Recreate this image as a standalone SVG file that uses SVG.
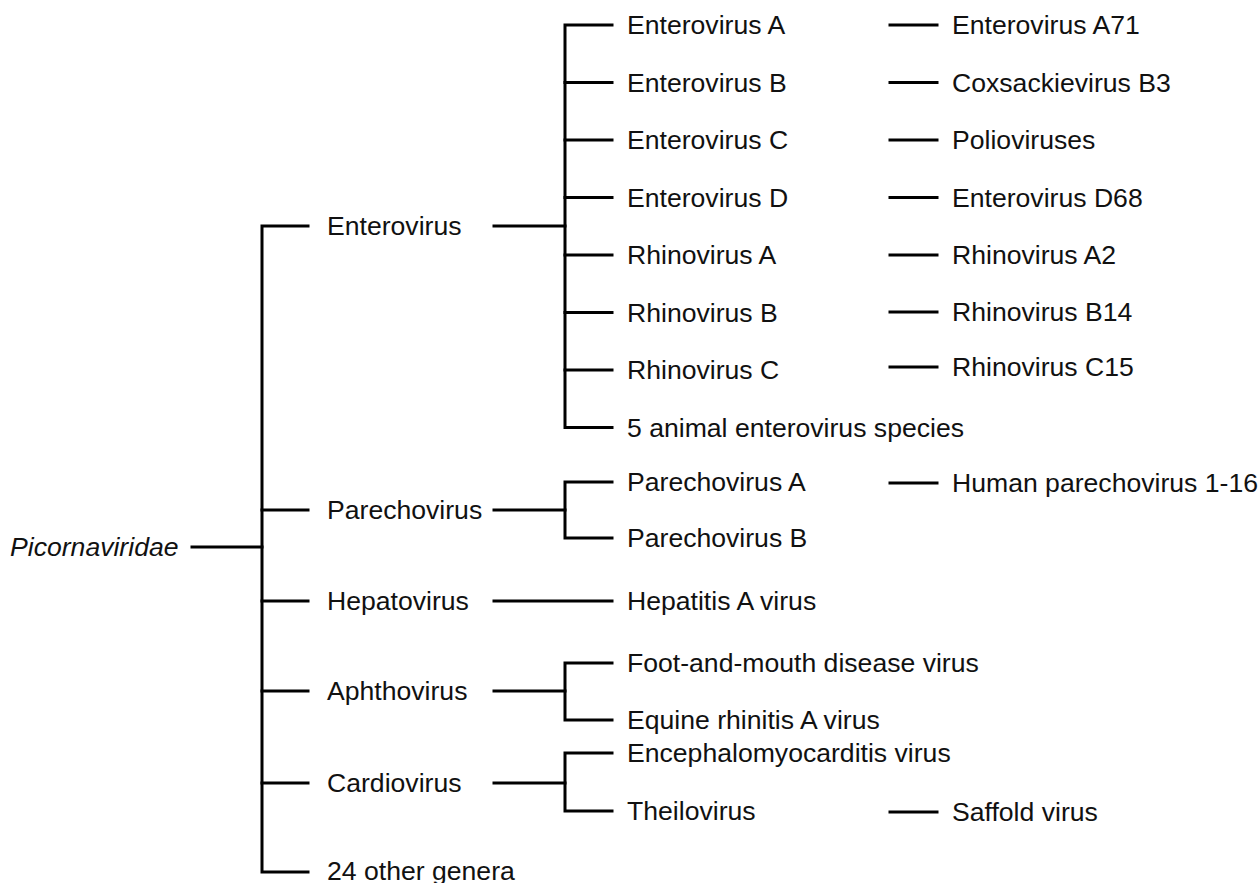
<svg xmlns="http://www.w3.org/2000/svg" width="1259" height="883" viewBox="0 0 1259 883">
<style>
text{font-family:"Liberation Sans",Arial,sans-serif;font-size:26.6px;fill:#111}
.it{font-style:italic}
.c line,.c path{stroke:#000;stroke-width:3;fill:none;stroke-linecap:square}
</style>
<rect width="1259" height="883" fill="#fff"/>
<g class="c" id="connectors">
<line x1="192" y1="547" x2="262" y2="547"/>
<path d="M308 226H262V872H308"/>
<line x1="262" y1="510" x2="308" y2="510"/>
<line x1="262" y1="601" x2="308" y2="601"/>
<line x1="262" y1="691" x2="308" y2="691"/>
<line x1="262" y1="783" x2="308" y2="783"/>
<line x1="494" y1="226" x2="565" y2="226"/>
<path d="M612 25H565V427.5H612"/>
<line x1="565" y1="82.5" x2="612" y2="82.5"/>
<line x1="565" y1="140" x2="612" y2="140"/>
<line x1="565" y1="197.5" x2="612" y2="197.5"/>
<line x1="565" y1="255" x2="612" y2="255"/>
<line x1="565" y1="312.5" x2="612" y2="312.5"/>
<line x1="565" y1="370" x2="612" y2="370"/>
<line x1="494" y1="510" x2="565" y2="510"/>
<path d="M612 482H565V538H612"/>
<line x1="494" y1="601" x2="612" y2="601"/>
<line x1="494" y1="691" x2="565" y2="691"/>
<path d="M612 663H565V720H612"/>
<line x1="494" y1="783" x2="565" y2="783"/>
<path d="M612 753H565V811H612"/>
<line x1="890" y1="25" x2="937" y2="25"/>
<line x1="890" y1="82.5" x2="937" y2="82.5"/>
<line x1="890" y1="140" x2="937" y2="140"/>
<line x1="890" y1="197.5" x2="937" y2="197.5"/>
<line x1="890" y1="255" x2="937" y2="255"/>
<line x1="890" y1="312" x2="937" y2="312"/>
<line x1="890" y1="367" x2="937" y2="367"/>
<line x1="890" y1="483" x2="937" y2="483"/>
<line x1="890" y1="812" x2="937" y2="812"/>
</g>
<g id="n-root"><text class="it" x="10" y="556">Picornaviridae</text></g>
<g id="n-enterovirus"><text x="327" y="235">Enterovirus</text></g>
<g id="n-parechovirus"><text x="327" y="519">Parechovirus</text></g>
<g id="n-hepatovirus"><text x="327" y="610">Hepatovirus</text></g>
<g id="n-aphthovirus"><text x="327" y="700">Aphthovirus</text></g>
<g id="n-cardiovirus"><text x="327" y="792">Cardiovirus</text></g>
<g id="n-other"><text x="327" y="880">24 other genera</text></g>
<g id="n-eva"><text x="627" y="34">Enterovirus A</text></g>
<g id="n-evb"><text x="627" y="91.5">Enterovirus B</text></g>
<g id="n-evc"><text x="627" y="149">Enterovirus C</text></g>
<g id="n-evd"><text x="627" y="206.5">Enterovirus D</text></g>
<g id="n-rva"><text x="627" y="264">Rhinovirus A</text></g>
<g id="n-rvb"><text x="627" y="321.5">Rhinovirus B</text></g>
<g id="n-rvc"><text x="627" y="379">Rhinovirus C</text></g>
<g id="n-animal"><text x="627" y="436.5">5 animal enterovirus species</text></g>
<g id="n-pva"><text x="627" y="491">Parechovirus A</text></g>
<g id="n-pvb"><text x="627" y="547">Parechovirus B</text></g>
<g id="n-hav"><text x="627" y="610">Hepatitis A virus</text></g>
<g id="n-fmdv"><text x="627" y="672">Foot-and-mouth disease virus</text></g>
<g id="n-erav"><text x="627" y="729">Equine rhinitis A virus</text></g>
<g id="n-emcv"><text x="627" y="762">Encephalomyocarditis virus</text></g>
<g id="n-theilo"><text x="627" y="820">Theilovirus</text></g>
<g id="n-a71"><text x="952" y="34">Enterovirus A71</text></g>
<g id="n-b3"><text x="952" y="91.5">Coxsackievirus B3</text></g>
<g id="n-polio"><text x="952" y="149">Polioviruses</text></g>
<g id="n-d68"><text x="952" y="206.5">Enterovirus D68</text></g>
<g id="n-a2"><text x="952" y="264">Rhinovirus A2</text></g>
<g id="n-b14"><text x="952" y="321">Rhinovirus B14</text></g>
<g id="n-c15"><text x="952" y="376">Rhinovirus C15</text></g>
<g id="n-hpev"><text x="952" y="492">Human parechovirus 1-16</text></g>
<g id="n-saffold"><text x="952" y="821">Saffold virus</text></g>
</svg>
